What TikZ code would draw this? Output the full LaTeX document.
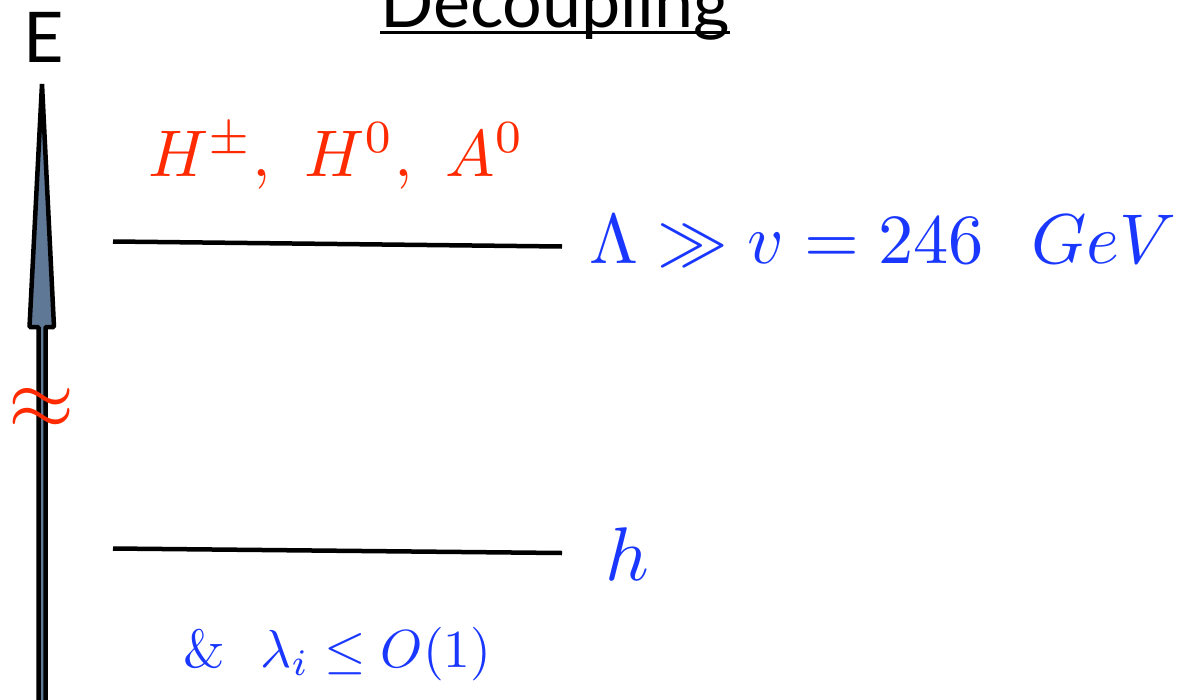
\documentclass[tikz,border=0pt]{standalone}
\usepackage{fontspec}
\newfontfamily\titlefont{Lato}
\definecolor{hred}{RGB}{255,42,0}
\definecolor{hblue}{RGB}{25,55,255}
\definecolor{arrowfill}{RGB}{95,120,150}
\tikzset{
  level/.style={line width=4.5pt},
  lbl/.style={inner sep=0pt, anchor=base west},
}
\begin{document}
\begin{tikzpicture}[x=1pt,y=-1pt]
\useasboundingbox (0,0) rectangle (1180,699);
% axis arrow
\draw[line width=4.5pt, fill=arrowfill, line join=bevel]
  (42,84) -- (54,327) -- (45.5,327) -- (45.5,705) -- (38.5,705) -- (38.5,327) -- (29.5,327) -- cycle;
\node[lbl] (E) at (23,62) {\titlefont\fontsize{70}{80}\selectfont E};
% title
\node[lbl] (title) at (380,27) {\titlefont\fontsize{70}{80}\selectfont Decoupling};
\draw[line width=3pt] ([yshift=-5pt]title.base west) -- ([yshift=-5pt]title.base east);
% break mark
\node[inner sep=0pt, text=hred] (brk) at (42,409) {\scalebox{8.5}{$\approx$}};
% levels
\coordinate (a1) at (113,241.5);
\coordinate (a2) at (562,246.5);
\coordinate (b1) at (113,548.5);
\coordinate (b2) at (562,553);
\draw[level] (a1) -- (a2);
\draw[level] (b1) -- (b2);
% labels
\node[lbl, text=hred] (heavy) at (148,176) {\scalebox{6.6}{$H^{\pm},\ H^0,\ A^0$}};
\node[lbl, text=hblue] (scale) at (589,263) {\scalebox{7.05}{$\Lambda\gg v=246~~GeV$}};
\node[lbl, text=hblue] (light) at (605,580) {\scalebox{7.6}{$h$}};
\node[lbl, text=hblue] (cond) at (183,667) {\scalebox{5.35}{$\&~~\lambda_i\le O(1)$}};
\end{tikzpicture}
\end{document}
